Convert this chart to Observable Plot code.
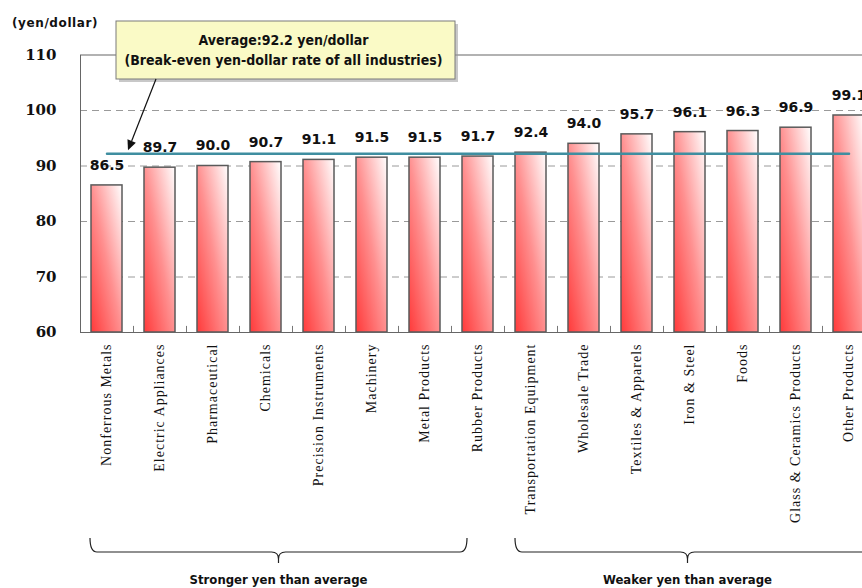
<!DOCTYPE html>
<html>
<head>
<meta charset="utf-8">
<script src="https://cdn.jsdelivr.net/npm/d3@7"></script>
<script src="https://cdn.jsdelivr.net/npm/@observablehq/plot@0.6"></script>
<style>
  html, body { margin: 0; padding: 0; background: #fff; overflow: hidden; }
  #chart { width: 862px; height: 588px; overflow: hidden; position: relative; }
  #chart svg { display: block; max-width: none !important; }
  g[aria-label="x-axis tick label"] text { letter-spacing: 1px; }
</style>
</head>
<body>
<div id="chart"></div>
<script>
// Break-even yen-dollar rate by industry
const industries = [
  "Nonferrous Metals", "Electric Appliances", "Pharmaceutical", "Chemicals",
  "Precision Instruments", "Machinery", "Metal Products", "Rubber Products",
  "Transportation Equipment", "Wholesale Trade", "Textiles & Apparels",
  "Iron & Steel", "Foods", "Glass & Ceramics Products", "Other Products"
];
const rates = [86.5, 89.7, 90.0, 90.7, 91.1, 91.5, 91.5, 91.7, 92.4, 94.0, 95.7, 96.1, 96.3, 96.9, 99.1];
const yTicks = [60, 70, 80, 90, 100, 110];
const gridLevels = [70, 80, 90, 100];
const averageRate = 92.2;
const unitLabel = "(yen/dollar)";
const calloutLines = ["Average:92.2 yen/dollar", "(Break-even yen-dollar rate of all industries)"];
const groupLabels = ["Stronger yen than average", "Weaker yen than average"];

const rows = industries.map((name, i) => ({name, rate: rates[i]}));
const avgRows = [
  {name: industries[0], rate: averageRate},
  {name: industries[industries.length - 1], rate: averageRate}
];

const W = 880, H = 588, mL = 80, mR = 5, mT = 54.5, mB = 256;
const step = (W - mL - mR) / industries.length;

// gradient used by the bars: red at lower left fading to white at upper right
const barGradient = () => {
  const defs = d3.create("svg:defs");
  const g = defs.append("linearGradient").attr("id", "barFill")
    .attr("x1", 0).attr("y1", 1).attr("x2", 1).attr("y2", 0);
  g.append("stop").attr("offset", "0%").attr("stop-color", "#ff3a3a");
  g.append("stop").attr("offset", "50%").attr("stop-color", "#ff9090");
  g.append("stop").attr("offset", "100%").attr("stop-color", "#ffffff");
  return defs.node();
};

const chart = Plot.plot({
  width: W, height: H,
  marginLeft: mL, marginRight: mR, marginTop: mT, marginBottom: mB,
  style: {background: "#fff", overflow: "visible", maxWidth: "none"},
  x: {domain: industries, paddingInner: 0.415, paddingOuter: 0.2075, label: null},
  y: {domain: [60, 110], label: null},
  marks: [
    barGradient,
    Plot.ruleY(gridLevels, {stroke: "#9a9a9a", strokeDasharray: "7,5", strokeWidth: 1}),
    Plot.barY(rows, {x: "name", y1: 60, y2: "rate", fill: "url(#barFill)", stroke: "#5a5a5a", strokeWidth: 1.5}),
    Plot.ruleX(industries.slice(0, -1), {x: d => d, dx: step / 2, y1: 60, y2: 61.1, stroke: "#777"}),
    Plot.frame({stroke: "#666"}),
    Plot.axisY({ticks: yTicks, tickSize: 0, tickPadding: 24, fontFamily: "DejaVu Serif", fontWeight: "bold", fontSize: 15, fill: "#111", label: null}),
    Plot.axisX({tickSize: 0, tickPadding: 11, tickRotate: -90, fontFamily: "Liberation Serif", fontSize: 14, fill: "#111", label: null}),
    Plot.lineY(avgRows, {x: "name", y: "rate", stroke: "#3f8ea0", strokeWidth: 2.5}),
    Plot.text(rows, {x: "name", y: "rate", text: d => d.rate.toFixed(1), dy: -20,
      fontFamily: "DejaVu Sans", fontWeight: "bold", fontSize: 14, fill: "#111"})
  ]
});

const svg = d3.select(chart);
const xs = chart.scale("x"), ys = chart.scale("y");
const cx = name => xs.apply(name) + xs.bandwidth / 2;
const narrow = "'DejaVu Sans Condensed', 'DejaVu Sans', sans-serif";

// unit label
svg.append("text").attr("x", 12).attr("y", 27).attr("text-anchor", "start")
  .attr("font-family", "DejaVu Sans").attr("font-weight", "bold").attr("font-size", 12)
  .attr("letter-spacing", 0.6).attr("fill", "#111").text(unitLabel);

// callout for the all-industry average
const callout = svg.append("g");
const bx = 116, by = 21, bw = 339, bh = 58;
callout.append("rect").attr("x", bx + 3).attr("y", by + 3).attr("width", bw).attr("height", bh)
  .attr("fill", "#9a9a9a").attr("opacity", 0.55);
callout.append("rect").attr("x", bx).attr("y", by).attr("width", bw).attr("height", bh)
  .attr("fill", "#fafac6").attr("stroke", "#7a7a7a").attr("stroke-width", 1);
calloutLines.forEach((t, i) => {
  callout.append("text").attr("x", bx + bw / 2 - 2).attr("y", by + 20 + i * 20)
    .attr("text-anchor", "middle").attr("dominant-baseline", "middle")
    .attr("font-family", narrow).attr("font-stretch", "condensed")
    .attr("font-weight", "bold").attr("font-size", 14).attr("fill", "#111").text(t);
});

// arrow from the callout to the average line
const tipX = cx(industries[0]) + 21.5, tipY = ys.apply(averageRate) - 3;
const fromX = 156, fromY = by + bh;
const ang = Math.atan2(tipY - fromY, tipX - fromX);
const head = 10, half = 4.5;
const baseX = tipX - head * Math.cos(ang), baseY = tipY - head * Math.sin(ang);
svg.append("line").attr("x1", fromX).attr("y1", fromY).attr("x2", baseX).attr("y2", baseY)
  .attr("stroke", "#111").attr("stroke-width", 1.2);
svg.append("path")
  .attr("d", `M${tipX},${tipY} L${baseX - half * Math.sin(ang)},${baseY + half * Math.cos(ang)} L${baseX + half * Math.sin(ang)},${baseY - half * Math.cos(ang)} Z`)
  .attr("fill", "#111");

// group braces under the category labels
function brace(x0, x1, mid, label) {
  const yTop = 538, yLine = 552, yTip = 563, r = 7;
  svg.append("path")
    .attr("d", `M${x0},${yTop} Q${x0},${yLine} ${x0 + r},${yLine} L${mid - r},${yLine} Q${mid},${yLine} ${mid},${yLine + r} L${mid},${yTip}`
      + ` M${mid},${yLine + r} Q${mid},${yLine} ${mid + r},${yLine} L${x1 - r},${yLine} Q${x1},${yLine} ${x1},${yTop}`)
    .attr("fill", "none").attr("stroke", "#222").attr("stroke-width", 1.2);
  svg.append("text").attr("x", mid).attr("y", 584).attr("text-anchor", "middle")
    .attr("font-family", narrow).attr("font-stretch", "condensed")
    .attr("font-weight", "bold").attr("font-size", 13).attr("fill", "#111").text(label);
}
const l0 = cx(industries[0]) - 16.5, l1 = cx(industries[7]) - 10.5;
brace(l0, l1, (l0 + l1) / 2, groupLabels[0]);
const r0 = cx(industries[8]) - 15.5, rm = cx(industries[11]) - 2;
brace(r0, W - 6, rm, groupLabels[1]);

document.getElementById("chart").appendChild(chart);
</script>
</body>
</html>
